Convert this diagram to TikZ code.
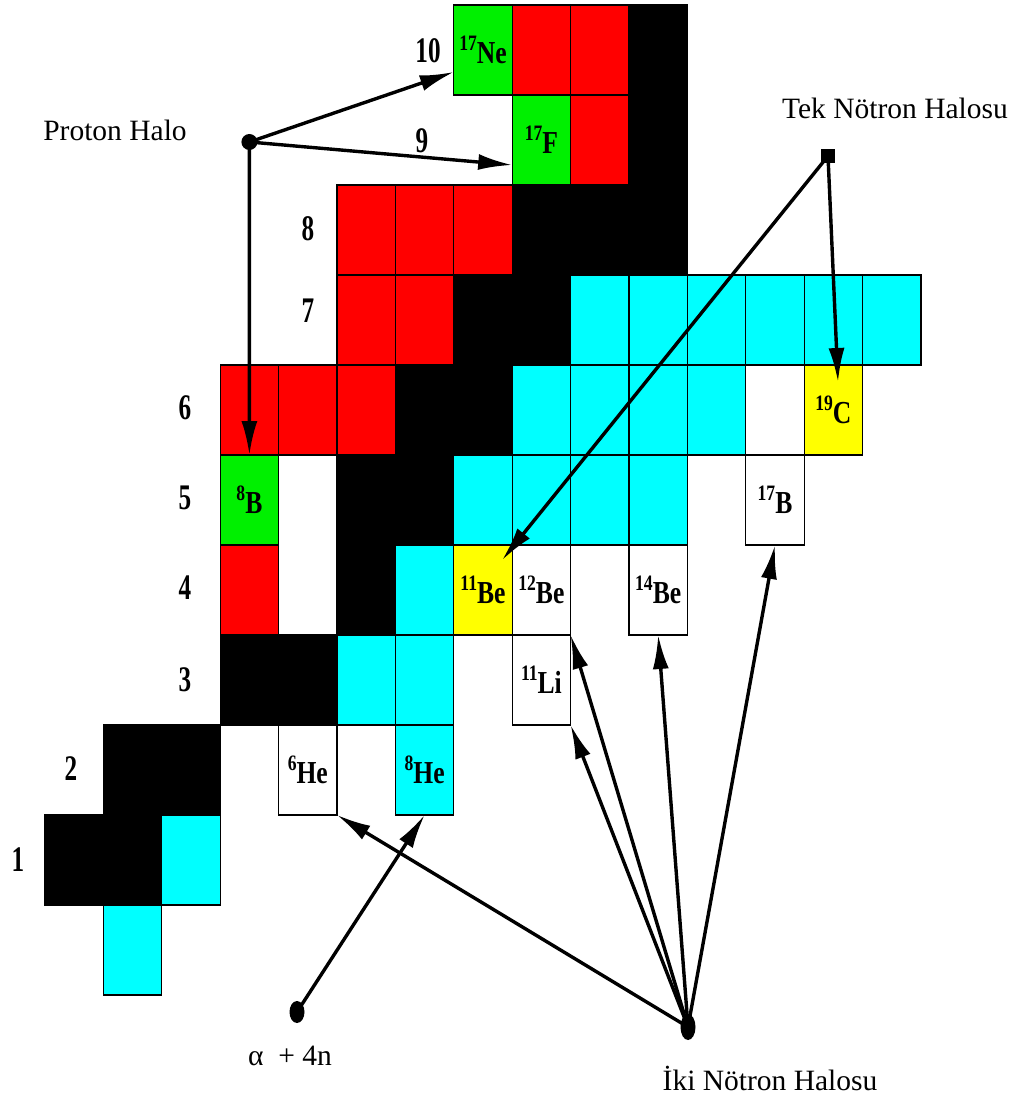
\documentclass[tikz,border=0pt]{standalone}
\usepackage{fontspec}
\setmainfont{Liberation Serif}
\usepackage{graphicx}
\usetikzlibrary{arrows.meta,shapes.geometric}
\definecolor{hred}{RGB}{255,0,0}
\definecolor{hgreen}{RGB}{0,240,0}
\definecolor{hcyan}{RGB}{0,255,255}
\definecolor{hyellow}{RGB}{255,255,0}
\newcommand{\iso}[2]{\scalebox{0.8}[1]{\bfseries\fontsize{22}{22}\selectfont\raisebox{13pt}{#1}\fontsize{32}{32}\selectfont #2}}
\newcommand{\znum}[1]{\scalebox{0.7}[1]{\bfseries\fontsize{36}{36}\selectfont #1}}
\newcommand{\cellat}[5]{\node[cellbox,fill=#4] (#1) at ({45+#2*58.4},{5+(10-#3)*90}) {#5};}
\begin{document}
\begin{tikzpicture}[x=1pt,y=-1pt,
  cellbox/.style={draw=black,line width=1.2pt,minimum width=58.4pt,minimum height=90pt,inner sep=0pt,outer sep=0pt,anchor=north west},
  conn/.style={line width=3.4pt,-{Latex[length=34pt,width=16pt]}},
  caption/.style={font=\fontsize{29.5}{34}\selectfont},
  znode/.style={inner sep=0pt},
  dot/.style={fill=black,draw=none,inner sep=0pt}]
\fill[white] (0,0) rectangle (1021,1099);
\useasboundingbox (0,0) rectangle (1021,1099);
% Z = 0
\cellat{n1}{1}{0}{hcyan}{}
% Z = 1
\cellat{h1}{0}{1}{black}{}
\cellat{h2}{1}{1}{black}{}
\cellat{h3}{2}{1}{hcyan}{}
% Z = 2
\cellat{he3}{1}{2}{black}{}
\cellat{he4}{2}{2}{black}{}
\cellat{he6}{4}{2}{white}{\iso{6}{He}}
\cellat{he8}{6}{2}{hcyan}{\iso{8}{He}}
% Z = 3
\cellat{li6}{3}{3}{black}{}
\cellat{li7}{4}{3}{black}{}
\cellat{li8}{5}{3}{hcyan}{}
\cellat{li9}{6}{3}{hcyan}{}
\cellat{li11}{8}{3}{white}{\iso{11}{Li}}
% Z = 4
\cellat{be7}{3}{4}{hred}{}
\cellat{be9}{5}{4}{black}{}
\cellat{be10}{6}{4}{hcyan}{}
\cellat{be11}{7}{4}{hyellow}{\iso{11}{Be}}
\cellat{be12}{8}{4}{white}{\iso{12}{Be}}
\cellat{be14}{10}{4}{white}{\iso{14}{Be}}
% Z = 5
\cellat{b8}{3}{5}{hgreen}{\iso{8}{B}}
\cellat{b10}{5}{5}{black}{}
\cellat{b11}{6}{5}{black}{}
\cellat{b12}{7}{5}{hcyan}{}
\cellat{b13}{8}{5}{hcyan}{}
\cellat{b14}{9}{5}{hcyan}{}
\cellat{b15}{10}{5}{hcyan}{}
\cellat{b17}{12}{5}{white}{\iso{17}{B}}
% Z = 6
\cellat{c9}{3}{6}{hred}{}
\cellat{c10}{4}{6}{hred}{}
\cellat{c11}{5}{6}{hred}{}
\cellat{c12}{6}{6}{black}{}
\cellat{c13}{7}{6}{black}{}
\cellat{c14}{8}{6}{hcyan}{}
\cellat{c15}{9}{6}{hcyan}{}
\cellat{c16}{10}{6}{hcyan}{}
\cellat{c17}{11}{6}{hcyan}{}
\cellat{c18}{12}{6}{white}{}
\cellat{c19}{13}{6}{hyellow}{\iso{19}{C}}
% Z = 7
\cellat{n12}{5}{7}{hred}{}
\cellat{n13}{6}{7}{hred}{}
\cellat{n14}{7}{7}{black}{}
\cellat{n15}{8}{7}{black}{}
\cellat{n16}{9}{7}{hcyan}{}
\cellat{n17}{10}{7}{hcyan}{}
\cellat{n18}{11}{7}{hcyan}{}
\cellat{n19}{12}{7}{hcyan}{}
\cellat{n20}{13}{7}{hcyan}{}
\cellat{n21}{14}{7}{hcyan}{}
% Z = 8
\cellat{o13}{5}{8}{hred}{}
\cellat{o14}{6}{8}{hred}{}
\cellat{o15}{7}{8}{hred}{}
\cellat{o16}{8}{8}{black}{}
\cellat{o17}{9}{8}{black}{}
\cellat{o18}{10}{8}{black}{}
% Z = 9
\cellat{f17}{8}{9}{hgreen}{\iso{17}{F}}
\cellat{f18}{9}{9}{hred}{}
\cellat{f19}{10}{9}{black}{}
% Z = 10
\cellat{ne17}{7}{10}{hgreen}{\iso{17}{Ne}}
\cellat{ne18}{8}{10}{hred}{}
\cellat{ne19}{9}{10}{hred}{}
\cellat{ne20}{10}{10}{black}{}
% Z numbers
\node[znode] (z10) at (428,51) {\znum{10}};
\node[znode] (z9) at (422,141) {\znum{9}};
\node[znode] (z8) at (308,229) {\znum{8}};
\node[znode] (z7) at (308,311) {\znum{7}};
\node[znode] (z6) at (185,408) {\znum{6}};
\node[znode] (z5) at (185,498) {\znum{5}};
\node[znode] (z4) at (185,588) {\znum{4}};
\node[znode] (z3) at (185,680) {\znum{3}};
\node[znode] (z2) at (71,769) {\znum{2}};
\node[znode] (z1) at (18,860) {\znum{1}};
% captions
\node[caption] (tph) at (115,130) {Proton Halo};
\node[caption] (ttek) at (895,108) {Tek Nötron Halosu};
\node[caption] (talpha) at (290,1056) {α\ \ + 4n};
\node[caption] (tiki) at (770,1078) {İki Nötron Halosu};
% dots
\node[dot,circle,minimum size=16pt] (pdot) at (249.4,142) {};
\node[dot,rectangle,minimum size=14pt] (tdot) at (828,156) {};
\node[dot,ellipse,minimum width=15pt,minimum height=22pt] (adot) at (297,1012) {};
\node[dot,ellipse,minimum width=15pt,minimum height=26pt] (idot) at (688,1027) {};
% connectors
\draw[conn] (pdot.center) -- ([yshift=-22pt]ne17.west);
\draw[conn] (pdot.center) -- ([yshift=-25pt]f17.west);
\draw[conn] (pdot.center) -- (b8.north);
\draw[conn] (tdot.center) -- ([xshift=-10pt,yshift=-15pt]be11.north east);
\draw[conn] (tdot.center) -- ([xshift=4.6pt,yshift=-17pt]c19.north);
\draw[conn] (adot.center) -- (he8.south);
\draw[conn] (idot.center) -- (he6.south east);
\draw[conn] (idot.center) -- (li11.south east);
\draw[conn] (idot.center) -- (be12.south east);
\draw[conn] (idot.center) -- (be14.south);
\draw[conn] (idot.center) -- (b17.south);
\end{tikzpicture}
\end{document}
